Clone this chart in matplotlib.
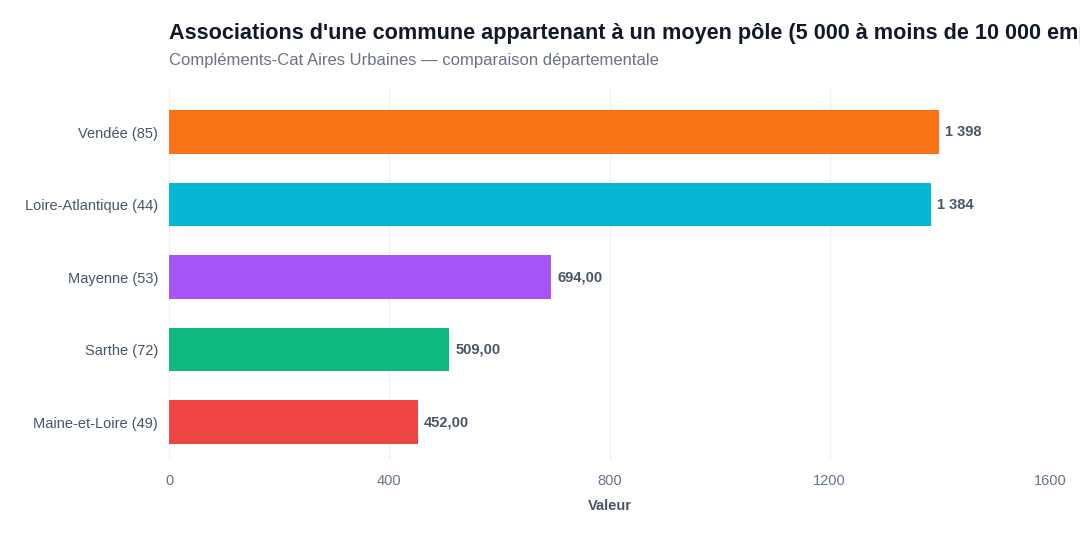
import matplotlib
matplotlib.use("Agg")
import matplotlib.pyplot as plt

plt.rcParams['font.family'] = ['Liberation Sans', 'DejaVu Sans']

categories = ["Vendée (85)", "Loire-Atlantique (44)", "Mayenne (53)", "Sarthe (72)", "Maine-et-Loire (49)"]
values = [1398, 1384, 694, 509, 452]
colors = ["#f97316", "#06b6d4", "#a855f7", "#10b981", "#ef4444"]
xticks = [0, 400, 800, 1200, 1600]

title = "Associations d'une commune appartenant à un moyen pôle (5 000 à moins de 10 000 emplois)"
subtitle = "Compléments-Cat Aires Urbaines — comparaison départementale"


def fmt(v):
    if v >= 1000:
        return f"{v:,.0f}".replace(",", " ")
    return f"{v:.2f}".replace(".", ",")


fig = plt.figure(figsize=(10.8, 5.4), dpi=100)
ax = fig.add_axes([169 / 1080, 1 - 460 / 540, 881 / 1080, 372 / 540])

ypos = list(range(len(categories)))[::-1]
ax.barh(ypos, values, height=0.6, color=colors, zorder=3)
for y, v in zip(ypos, values):
    ax.text(v + 11, y, fmt(v), va="center", ha="left", fontsize=10.5,
            fontweight="bold", color="#475569", zorder=4)

ax.set_xlim(0, 1600)
ax.set_ylim(-0.524, len(categories) - 1 + 0.607)
ax.set_yticks(ypos)
ax.set_yticklabels(categories, fontsize=10.5, color="#475569")
ax.set_xticks(xticks)
ax.set_xticklabels([str(t) for t in xticks], fontsize=10.5, color="#64748b")
ax.tick_params(axis="both", length=0)
ax.tick_params(axis="y", pad=8)
ax.tick_params(axis="x", pad=10)
for s in ax.spines.values():
    s.set_visible(False)
ax.grid(axis="x", color="#eef0f4", linewidth=1, zorder=0)
ax.set_axisbelow(True)
ax.set_xlabel("Valeur", fontsize=10.5, fontweight="bold", color="#475569", labelpad=8)

fig.text(169 / 1080, 1 - 33 / 540, title, fontsize=15.6, fontweight="bold",
         color="#111827", va="center", ha="left")
fig.text(169 / 1080, 1 - 61 / 540, subtitle, fontsize=12, color="#6b7280",
         va="center", ha="left")

fig.savefig("out.png", dpi=100)
